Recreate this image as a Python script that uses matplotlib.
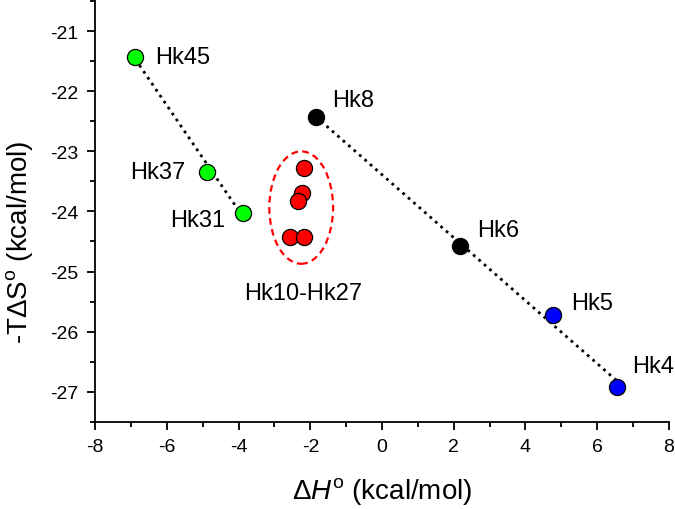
import numpy as np
import matplotlib
matplotlib.use("Agg")
import matplotlib.pyplot as plt
from matplotlib.patches import Ellipse
from matplotlib.ticker import MultipleLocator

plt.rcParams['font.family'] = ['Liberation Sans', 'DejaVu Sans']
plt.rcParams['mathtext.fontset'] = 'custom'
plt.rcParams['mathtext.rm'] = 'Liberation Sans'
plt.rcParams['mathtext.it'] = 'Liberation Sans:italic'
plt.rcParams['axes.unicode_minus'] = False

# green group
green_names = ["Hk45", "Hk37", "Hk31"]
green_dh = [-6.88, -4.87, -3.87]
green_tds = [-21.43, -23.34, -24.02]

# black group
black_names = ["Hk8", "Hk6"]
black_dh = [-1.85, 2.18]
black_tds = [-22.43, -24.58]

# blue group
blue_names = ["Hk5", "Hk4"]
blue_dh = [4.78, 6.54]
blue_tds = [-25.73, -26.92]

# red cluster Hk10-Hk27
red_dh = [-2.18, -2.23, -2.35, -2.58, -2.18]
red_tds = [-23.27, -23.69, -23.82, -24.42, -24.43]

fig = plt.figure(figsize=(6.75, 5.1), dpi=100)
ax = fig.add_axes([0.141, 0.171, 0.85, 0.825])

# dotted fit lines
def fit_line(xs, ys):
    k, b = np.polyfit(xs, ys, 1)
    xx = np.array([min(xs), max(xs)])
    ax.plot(xx, k * xx + b, color='black', linestyle=(0, (1, 1.6)),
            linewidth=2.0, zorder=2)

fit_line(green_dh, green_tds)
fit_line(black_dh + blue_dh, black_tds + blue_tds)

ms = 135
ax.scatter(green_dh, green_tds, s=ms, color='#00ff00', edgecolor='black', linewidth=0.9, zorder=3)
ax.scatter(black_dh, black_tds, s=ms, color='black', edgecolor='black', linewidth=0.9, zorder=3)
ax.scatter(blue_dh, blue_tds, s=ms, color='#0000ff', edgecolor='black', linewidth=0.9, zorder=3)
ax.scatter(red_dh, red_tds, s=ms, color='#ff0000', edgecolor='black', linewidth=0.9, zorder=3)

ell = Ellipse((np.mean(red_dh) + 0.05, np.mean(red_tds) - 0.01), 1.78, 1.87,
              fill=False, edgecolor='#ff0000', linestyle=(0, (3, 2)), linewidth=1.6)
ax.add_patch(ell)

fs = 17
# labels, offsets in points
def lab(nm, x, y, dx, dy, ha='left'):
    ax.annotate(nm, (x, y), xytext=(dx, dy), textcoords='offset points',
                fontsize=fs, ha=ha, va='center')

lab(green_names[0], green_dh[0], green_tds[0], 14, 0)
lab(green_names[1], green_dh[1], green_tds[1], -16, 0, 'right')
lab(green_names[2], green_dh[2], green_tds[2], -13, -5, 'right')
lab(black_names[0], black_dh[0], black_tds[0], 12, 12)
lab(black_names[1], black_dh[1], black_tds[1], 12, 12)
lab(blue_names[0], blue_dh[0], blue_tds[0], 13, 9)
lab(blue_names[1], blue_dh[1], blue_tds[1], 11, 15)
ax.text(-2.2, -25.35, "Hk10-Hk27", fontsize=fs, va='center', ha='center')

ax.set_xlim(-8, 8)
ax.set_ylim(-27.5, -20.5)
ax.xaxis.set_major_locator(MultipleLocator(2))
ax.xaxis.set_minor_locator(MultipleLocator(1))
ax.yaxis.set_major_locator(MultipleLocator(1))
ax.yaxis.set_minor_locator(MultipleLocator(0.5))

for s in ['top', 'right']:
    ax.spines[s].set_visible(False)
for s in ['left', 'bottom']:
    ax.spines[s].set_linewidth(1.3)
ax.tick_params(which='major', direction='out', length=6, width=1.3, labelsize=14, pad=6)
ax.tick_params(which='minor', direction='out', length=3.5, width=1.3)

ax.set_xlabel(r"Δ$\mathit{H}^{\mathrm{o}}$ (kcal/mol)", fontsize=20, labelpad=14)
ax.set_ylabel(r"-TΔS$^{\mathrm{o}}$ (kcal/mol)", fontsize=20)
ax.yaxis.set_label_coords(-0.105, 0.43)

fig.savefig("out.png", dpi=100)
